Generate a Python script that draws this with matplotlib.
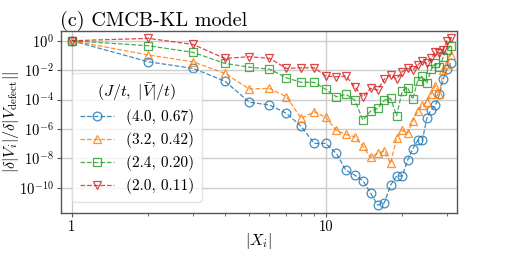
import numpy as np
import matplotlib
matplotlib.use("Agg")
import matplotlib.pyplot as plt
from matplotlib.ticker import LogLocator, NullFormatter, NullLocator

plt.rcParams['font.family'] = ['cmr10', 'DejaVu Serif']
plt.rcParams['mathtext.fontset'] = 'cm'
plt.rcParams['axes.formatter.use_mathtext'] = True
plt.rcParams['axes.unicode_minus'] = False

x_sites = list(range(1, 32))

# log10 of |delta|V_i| / delta|V_defect||
log_blue = [0.0, -1.43, -1.88, -2.74, -4.18, -4.37, -4.94, -5.82, -6.98, -6.98,
            -7.66, -8.80, -9.14, -9.52, -10.35, -11.18, -11.02, -9.82, -9.20, -9.20,
            -8.12, -7.35, -6.78, -6.76, -5.28, -4.70, -4.40, -3.65, -2.62, -1.95, -1.54]
log_orange = [0.0, -0.97, -1.43, -2.22, -3.28, -3.24, -3.81, -5.28, -4.83, -5.21,
              -6.10, -6.37, -6.53, -7.16, -7.93, -7.66, -7.50, -8.34, -6.64, -6.10,
              -6.30, -5.45, -4.80, -4.40, -4.15, -3.60, -3.05, -3.65, -2.02, -1.60, -0.97]
log_green = [0.0, -0.34, -0.79, -1.54, -1.80, -1.93, -2.52, -2.83, -2.83, -3.31,
             -3.81, -3.65, -4.03, -5.40, -4.78, -4.60, -4.05, -3.92, -5.10, -3.41,
             -3.18, -3.98, -2.72, -2.40, -2.90, -1.95, -1.54, -1.77, -1.13, -0.63, -0.34]
log_red = [0.0, 0.16, -0.25, -1.20, -1.09, -1.20, -1.88, -1.84, -1.84, -2.40,
           -2.45, -2.40, -3.13, -3.81, -3.24, -3.35, -2.61, -2.33, -2.61, -2.11,
           -1.88, -2.00, -1.65, -1.38, -1.54, -1.20, -0.79, -0.84, -0.63, 0.0, 0.20]

labels = ["(4.0, 0.67)", "(3.2, 0.42)", "(2.4, 0.20)", "(2.0, 0.11)"]
series = [log_blue, log_orange, log_green, log_red]
colors = ["#1f77b4", "#ff7f0e", "#2ca02c", "#d62728"]
markers = ["o", "^", "s", "v"]

fig = plt.figure(figsize=(5.07, 2.54), dpi=100)
ax = fig.add_axes([0.120, 0.161, 0.781, 0.718])

for vals, lab, c, m in zip(series, labels, colors, markers):
    y = 10.0 ** np.array(vals)
    ax.plot(x_sites, y, linestyle='--', color=c, lw=0.9, marker=m,
            markersize=6.3, markerfacecolor='none', markeredgecolor=c,
            markeredgewidth=0.9, alpha=0.85, label=lab)

ax.set_xscale('log')
ax.set_yscale('log')
ax.set_xlim(0.905, 32.8)
ax.set_ylim(10 ** -11.72, 10 ** 0.68)
ax.set_yticks([10.0 ** k for k in range(0, -11, -2)])
ax.yaxis.set_minor_locator(NullLocator())
ax.xaxis.set_minor_locator(LogLocator(base=10, subs=np.arange(2, 10)))
ax.xaxis.set_minor_formatter(NullFormatter())
ax.set_xticks([1, 10])
ax.set_xticklabels(["1", "10"])

ax.grid(True, which='major', color='#cccccc', lw=1.0)
ax.set_axisbelow(True)
for sp in ax.spines.values():
    sp.set_color('#555555')
    sp.set_linewidth(1.0)
ax.tick_params(which='major', length=3, width=0.8, color='#555555', labelsize=10.5, pad=2)
ax.tick_params(which='minor', length=2, width=0.6, color='#555555')

ax.set_xlabel(r'$|X_i|$', fontsize=11.5)
ax.xaxis.set_label_coords(0.5, -0.10)
ax.set_ylabel(r'$|\delta|V_i|/\delta|V_{\rm defect}||$', fontsize=11.5)
ax.yaxis.set_label_coords(-0.100, 0.5)
ax.set_title('(c) CMCB-KL model', loc='left', fontsize=14.5, pad=3, x=-0.003)

leg = ax.legend(title=r'$(J/t,\ |\bar{V}|/t)$', loc='lower left', fontsize=11,
                title_fontsize=11.5, frameon=True, framealpha=0.8,
                borderaxespad=0.75, handlelength=2.2, labelspacing=0.45,
                borderpad=0.5)
leg.get_frame().set_edgecolor('#dddddd')

fig.savefig('out.png', dpi=100)
